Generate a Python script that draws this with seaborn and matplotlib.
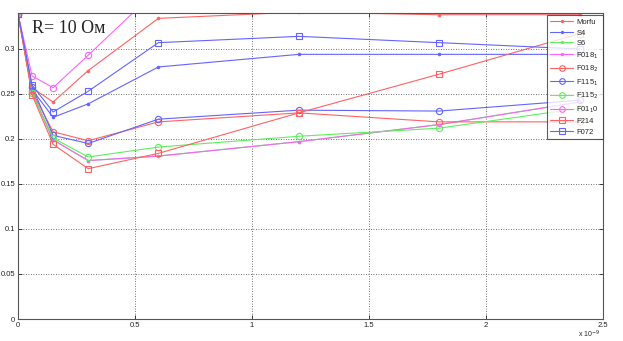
import matplotlib
matplotlib.use("Agg")
import matplotlib.pyplot as plt
import seaborn as sns
import pandas as pd
from matplotlib.ticker import FuncFormatter

# x values in units of 1e-9
x_vals = [0, 0.06, 0.15, 0.3, 0.6, 1.2, 1.8, 2.4]

morfu  = [0.339, 0.257, 0.241, 0.276, 0.334, 0.341, 0.338, 0.338]
s4     = [0.339, 0.255, 0.224, 0.239, 0.280, 0.294, 0.294, 0.294]
s6     = [0.339, 0.252, 0.199, 0.176, 0.181, 0.197, 0.216, 0.241]
f018_1 = [0.339, 0.252, 0.199, 0.176, 0.181, 0.197, 0.216, 0.241]
f018_2 = [0.339, 0.253, 0.208, 0.198, 0.219, 0.229, 0.219, 0.219]
f115_1 = [0.339, 0.258, 0.204, 0.195, 0.222, 0.232, 0.231, 0.243]
f115_2 = [0.339, 0.251, 0.201, 0.180, 0.191, 0.203, 0.212, 0.234]
f01_0  = [0.339, 0.270, 0.257, 0.293, 0.367, 0.400, 0.420, 0.430]
f214   = [0.339, 0.249, 0.194, 0.167, 0.184, 0.229, 0.272, 0.317]
f072   = [0.339, 0.260, 0.230, 0.253, 0.307, 0.314, 0.307, 0.300]

labels = ["Morfu", "S4", "S6", "F018$_1$", "F018$_2$", "F115$_1$", "F115$_2$",
          "F01$_1$0", "F214", "F072"]
series = [morfu, s4, s6, f018_1, f018_2, f115_1, f115_2, f01_0, f214, f072]

y_ticks = [0, 0.05, 0.1, 0.15, 0.2, 0.25, 0.3]
x_ticks = [0, 0.5, 1, 1.5, 2, 2.5]

RED, BLUE, GREEN, MAG = "#ff6262", "#6464ff", "#5cf05c", "#ff62ff"
colors = [RED, BLUE, GREEN, MAG, RED, BLUE, GREEN, MAG, RED, BLUE]
markers = [".", ".", ".", ".", "o", "o", "o", "o", "s", "s"]

sns.set_style("white")
plt.rcParams["font.family"] = ["Liberation Sans", "DejaVu Sans"]

fig = plt.figure(figsize=(6.23, 3.41), dpi=100)
ax = fig.add_axes([18 / 623, 22 / 341, 585 / 623, 306.5 / 341])

for lab, vals, c, m in zip(labels, series, colors, markers):
    df = pd.DataFrame({"x": x_vals, "y": vals})
    filled = m == "."
    sns.lineplot(data=df, x="x", y="y", ax=ax, color=c, marker=m,
                 markersize=3.5 if filled else 4.5,
                 markerfacecolor=c if filled else "none",
                 markeredgecolor=c, markeredgewidth=0.8,
                 linewidth=0.8, label=lab, sort=False)

ax.set_xlim(0, 2.5)
ax.set_ylim(0, 0.3405)
ax.set_xticks(x_ticks)
ax.set_yticks(y_ticks)
fmt = FuncFormatter(lambda v, p: "%g" % round(v, 4))
ax.xaxis.set_major_formatter(fmt)
ax.yaxis.set_major_formatter(fmt)
ax.set_xlabel("")
ax.set_ylabel("")
ax.grid(True, color="#444444", linestyle=(0, (1, 2)), linewidth=0.6)
ax.tick_params(direction="in", length=3, width=0.6, labelsize=5.5,
               top=True, right=True, bottom=True, left=True, pad=2,
               colors="#222222")
for sp in ax.spines.values():
    sp.set_color("#555555")
    sp.set_linewidth(0.8)

ax.text(0.024, 0.933, "R= 10 Ом", transform=ax.transAxes,
        fontsize=13, family=["Liberation Serif", "DejaVu Serif"],
        va="baseline", ha="left")
ax.text(0.995, -0.033, "x 10$^{-9}$", transform=ax.transAxes, fontsize=5,
        ha="right", va="top")

leg = ax.legend(loc="upper right", bbox_to_anchor=(1.0, 1 - 2.5 / 306.5),
                borderaxespad=0, fontsize=5.5, frameon=True, fancybox=False,
                handlelength=3.0, handletextpad=0.4, labelspacing=0.40,
                borderpad=0.5, markerscale=0.9)
leg.get_frame().set_edgecolor("#333333")
leg.get_frame().set_linewidth(0.8)

fig.savefig("out.png", dpi=100)
